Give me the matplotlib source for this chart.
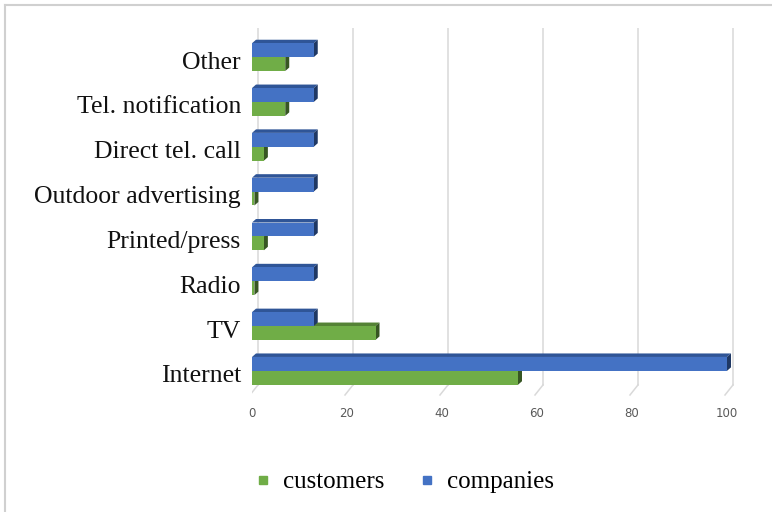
import matplotlib
matplotlib.use("Agg")
import matplotlib.pyplot as plt
from matplotlib.patches import Polygon
from matplotlib.lines import Line2D
import numpy as np

categories = ["Internet", "TV", "Radio", "Printed/press", "Outdoor advertising",
              "Direct tel. call", "Tel. notification", "Other"]
customers = [56, 26, 0.5, 2.5, 0.5, 2.5, 7, 7]
companies = [100, 13, 13, 13, 13, 13, 13, 13]
xticks = [0, 20, 40, 60, 80, 100]

BLUE = "#4472C4"
BLUE_TOP = "#2F5597"
BLUE_SIDE = "#1F3864"
GREEN = "#70AD47"
GREEN_TOP = "#548235"
GREEN_SIDE = "#375623"

fig = plt.figure(figsize=(7.72, 5.12), dpi=100)
ax = fig.add_axes([252 / 772, 112 / 512, 490 / 772, 372 / 512])

ypix = 44.6            # pixels per category step
xpix = 4.75            # pixels per value unit
ax.set_xlim(0, 490 / xpix)
ax.set_ylim(-(400 - 371) / ypix, 7 + (57 - 28) / ypix)

# depth offsets for the 3D look (value units, category units)
dx, dy = 4 / xpix, 3.5 / ypix
wall_dx = 6 / xpix
floor_back = -(385 - 371) / ypix
floor_front = -(395 - 371) / ypix
grid_top = 7 + (57 - 28) / ypix

# back-wall gridlines and floor diagonals
for v in xticks:
    ax.plot([v + wall_dx, v + wall_dx], [floor_back, grid_top],
            color="#D9D9D9", lw=1.1, zorder=0.5)
    ax.plot([v - 2 / xpix, v + wall_dx], [floor_front, floor_back],
            color="#D9D9D9", lw=1.1, zorder=0.5)

y = np.arange(len(categories))
h = 0.31


def bar3d(vals, offs, face, top, side, z):
    bars = ax.barh(y + offs, vals, height=h, color=face, zorder=z)
    for b in bars:
        x0, y0 = b.get_x(), b.get_y()
        w, hh = b.get_width(), b.get_height()
        ax.add_patch(Polygon([(x0, y0 + hh), (x0 + w, y0 + hh),
                              (x0 + w + dx, y0 + hh + dy), (x0 + dx, y0 + hh + dy)],
                             closed=True, color=top, zorder=z - 0.1, lw=0))
        ax.add_patch(Polygon([(x0 + w, y0), (x0 + w + dx, y0 + dy),
                              (x0 + w + dx, y0 + hh + dy), (x0 + w, y0 + hh)],
                             closed=True, color=side, zorder=z - 0.1, lw=0))
    return bars


bar3d(customers, -h / 2, GREEN, GREEN_TOP, GREEN_SIDE, 2)
bar3d(companies, h / 2, BLUE, BLUE_TOP, BLUE_SIDE, 3)

ax.set_yticks(y - 3 / ypix)
ax.set_yticklabels(categories, family="Liberation Serif", fontsize=18.5, color="#111111")
ax.set_xticks(xticks)
ax.set_xticklabels([str(t) for t in xticks], fontsize=8.5, color="#595959")
ax.tick_params(axis="both", length=0)
ax.tick_params(axis="y", pad=8)
ax.tick_params(axis="x", pad=5)
for s in ax.spines.values():
    s.set_visible(False)
ax.patch.set_alpha(0)

handles = [Line2D([], [], marker="s", ls="", color=GREEN, markersize=6),
           Line2D([], [], marker="s", ls="", color=BLUE, markersize=6)]
fig.legend(handles, ["customers", "companies"], loc="center",
           bbox_to_anchor=(401 / 772, 1 - 482 / 512), ncol=2, frameon=False,
           prop={"family": "Liberation Serif", "size": 18}, columnspacing=1.1,
           handletextpad=0.2, handlelength=1.2)

# chart frame edges
fig.add_artist(Line2D([5 / 772, 1], [1 - 5 / 512] * 2, color="#D0D0D0", lw=1.5))
fig.add_artist(Line2D([5 / 772] * 2, [0, 1 - 5 / 512], color="#D0D0D0", lw=1.5))

fig.savefig("out.png", dpi=100)
